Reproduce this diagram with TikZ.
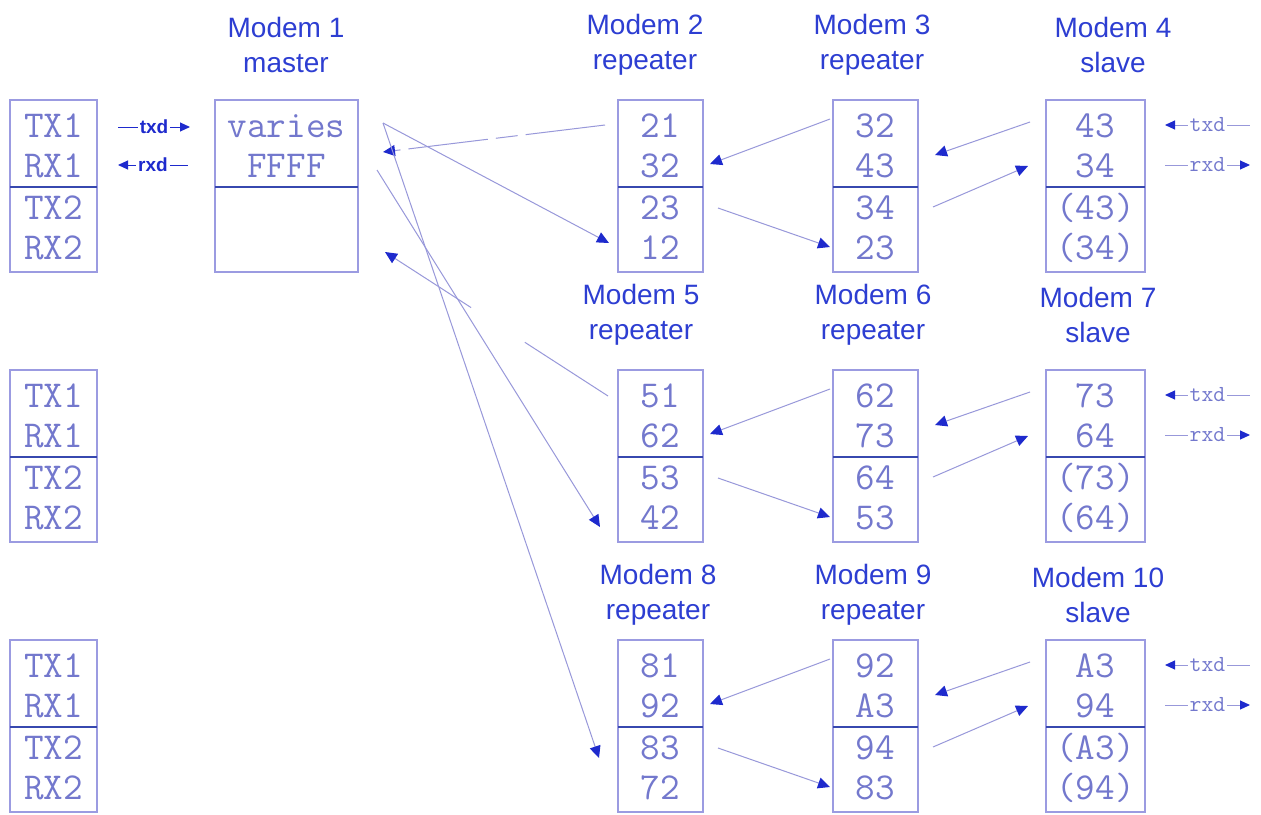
\documentclass[tikz,border=0pt]{standalone}
\usepackage{fontspec}
\setsansfont{Liberation Sans}
\usetikzlibrary{arrows.meta}
\definecolor{titlec}{RGB}{45,62,210}
\definecolor{cellc}{RGB}{115,120,205}
\definecolor{boxc}{RGB}{155,155,225}
\definecolor{splitc}{RGB}{55,72,175}
\definecolor{linec}{RGB}{152,152,218}
\definecolor{arrowc}{RGB}{30,42,205}
\newcommand\modemcol[8]{%
  \node[box, minimum width={(#3)-(#2)}, minimum height=172] (#1) at ({((#2)+(#3))/2},{(#4)+86}) {};
  \draw[split] (#2,{(#4)+87}) -- (#3,{(#4)+87});
  \node[cell] (#1-1) at ({((#2)+(#3))/2},{(#4)+25}) {#5};
  \node[cell] (#1-2) at ({((#2)+(#3))/2},{(#4)+65}) {#6};
  \node[cell] (#1-3) at ({((#2)+(#3))/2},{(#4)+107}) {#7};
  \node[cell] (#1-4) at ({((#2)+(#3))/2},{(#4)+147}) {#8};
}
\begin{document}
\begin{tikzpicture}[x=1pt,y=-1pt,
  box/.style={draw=boxc, line width=1.2pt, inner sep=0pt, outer sep=0pt},
  split/.style={draw=splitc, line width=1.6pt},
  cell/.style={font=\fontsize{38}{40}\selectfont\ttfamily, text=cellc, inner sep=0pt, text height=24pt, text depth=0pt},
  title/.style={font=\fontsize{28}{35}\selectfont\sffamily, text=titlec, align=center, inner sep=0pt},
  conn/.style={draw=linec, line width=1pt, -{Triangle[length=12pt,width=11pt,color=arrowc,fill=arrowc]}},
  lbl/.style={draw=linec, line width=1pt, {Triangle[length=10pt,width=9pt,color=arrowc,fill=arrowc]}-},
  lblr/.style={draw=linec, line width=1pt, -{Triangle[length=10pt,width=9pt,color=arrowc,fill=arrowc]}},
  lsans/.style={fill=white, inner sep=2pt, text=arrowc, font=\fontsize{19}{19}\selectfont\sffamily\bfseries},
  lmono/.style={fill=white, inner sep=2pt, text=cellc, font=\fontsize{23}{23}\selectfont\ttfamily}
]
\useasboundingbox (0,0) rectangle (1261,814);
\fill[white] (0,0) rectangle (1261,814);

% titles
\node[title] (t1) at (286,45) {Modem 1\\master};
\node[title] (t2) at (645,45) {Modem 2\\repeater};
\node[title] (t3) at (872,45) {Modem 3\\repeater};
\node[title] (t4) at (1113,45) {Modem 4\\slave};
\node[title] (t5) at (641,315) {Modem 5\\repeater};
\node[title] (t6) at (873,315) {Modem 6\\repeater};
\node[title] (t7) at (1098,315) {Modem 7\\slave};
\node[title] (t8) at (658,595) {Modem 8\\repeater};
\node[title] (t9) at (873,595) {Modem 9\\repeater};
\node[title] (t10) at (1098,595) {Modem 10\\slave};

% left port boxes
\modemcol{pa}{10}{97}{100}{TX1}{RX1}{TX2}{RX2}
\modemcol{pb}{10}{97}{370}{TX1}{RX1}{TX2}{RX2}
\modemcol{pc}{10}{97}{640}{TX1}{RX1}{TX2}{RX2}
% master
\modemcol{m1}{215}{358}{100}{varies}{FFFF}{}{}
% row 1
\modemcol{m2}{618}{703}{100}{21}{32}{23}{12}
\modemcol{m3}{833}{918}{100}{32}{43}{34}{23}
\modemcol{m4}{1046}{1145}{100}{43}{34}{(43)}{(34)}
% row 2
\modemcol{m5}{618}{703}{370}{51}{62}{53}{42}
\modemcol{m6}{833}{918}{370}{62}{73}{64}{53}
\modemcol{m7}{1046}{1145}{370}{73}{64}{(73)}{(64)}
% row 3
\modemcol{m8}{618}{703}{640}{81}{92}{83}{72}
\modemcol{m9}{833}{918}{640}{92}{A3}{94}{83}
\modemcol{m10}{1046}{1145}{640}{A3}{94}{(A3)}{(94)}

% left txd / rxd
\coordinate (ltxa) at (118,127); \coordinate (ltxb) at (190,127);
\coordinate (lrxa) at (118,165); \coordinate (lrxb) at (188,165);
\draw[lblr, draw=arrowc] (ltxa) -- node[lsans]{txd} (ltxb);
\draw[lbl, draw=arrowc] (lrxa) -- node[lsans]{rxd} (lrxb);

% right txd / rxd
\foreach \r/\o in {1/0,2/270,3/540}{
  \coordinate (rtxa\r) at (1165,{125+\o}); \coordinate (rtxb\r) at (1250,{125+\o});
  \coordinate (rrxa\r) at (1165,{165+\o}); \coordinate (rrxb\r) at (1250,{165+\o});
  \draw[lbl] (rtxa\r) -- node[lmono]{txd} (rtxb\r);
  \draw[lblr] (rrxa\r) -- node[lmono]{rxd} (rrxb\r);
}

% row connectors
\foreach \r/\o in {1/0,2/270,3/540}{
  \coordinate (a1\r) at (830,{119+\o}); \coordinate (a2\r) at (710,{164+\o});
  \coordinate (b1\r) at (718,{208+\o}); \coordinate (b2\r) at (830,{247+\o});
  \coordinate (c1\r) at (1030,{122+\o}); \coordinate (c2\r) at (935,{155+\o});
  \coordinate (d1\r) at (933,{207+\o}); \coordinate (d2\r) at (1028,{166+\o});
  \draw[conn] (a1\r) -- (a2\r);
  \draw[conn] (b1\r) -- (b2\r);
  \draw[conn] (c1\r) -- (c2\r);
  \draw[conn] (d1\r) -- (d2\r);
}

% master connectors
\coordinate (m1o1) at (383,123);
\coordinate (m1i1) at (383,152);
\coordinate (m1o2) at (377,170);
\coordinate (m1i2) at (385,252);
\coordinate (m2in) at (609,243);
\coordinate (m2out) at (605,125);
\coordinate (m5in) at (600,527);
\coordinate (m5out) at (608,396);
\coordinate (m8in) at (599,758);
\draw[conn] (m1o1) -- (m2in);
\draw[conn, dash pattern=on 80pt off 8pt on 22pt off 8pt] (m2out) -- (m1i1);
\draw[conn] (m1o1) -- (m8in);
\draw[conn] (m1o2) -- (m5in);
\draw[conn, dash pattern=on 99pt off 64pt on 300pt] (m5out) -- (m1i2);
\end{tikzpicture}
\end{document}
